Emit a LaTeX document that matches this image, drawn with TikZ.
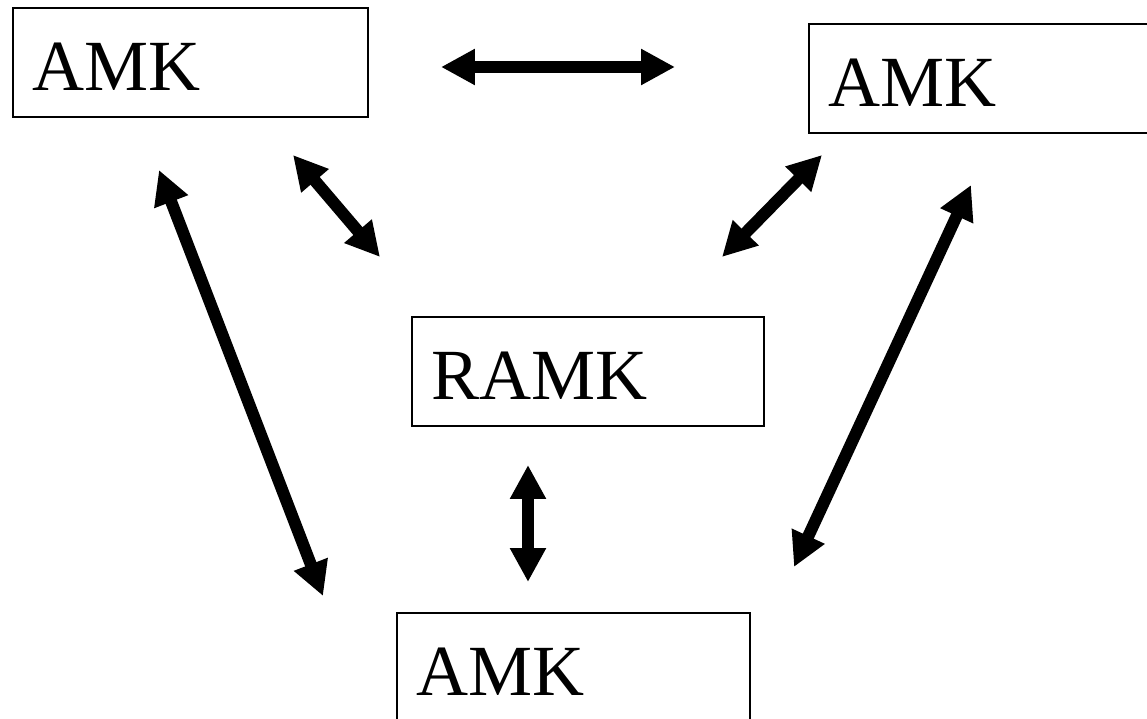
\documentclass[tikz,border=0pt]{standalone}
\usepackage{fontspec}
\setmainfont{Liberation Serif}
\usetikzlibrary{arrows.meta}
\begin{document}
\begin{tikzpicture}[x=0.02cm,y=-0.02cm,
  box/.style={draw, line width=0.035cm, anchor=north west, inner xsep=0.4cm, inner ysep=0pt,
    text width=6.3cm, align=left, minimum height=2.18cm,
    font=\fontsize{41}{49}\selectfont, text height=1.11cm, text depth=0pt},
  dbl/.style={line width=0.24cm,
    {Triangle[length=0.68cm,width=0.68cm]}-{Triangle[length=0.68cm,width=0.68cm]}}]
\useasboundingbox (0,0) rectangle (1147,719);
\clip (0,0) rectangle (1147,719);
\node[box] (tl) at (12,7) {AMK};
\node[box] (tr) at (808,23) {AMK};
\node[box, text width=6.24cm] (c) at (411,316) {RAMK};
\node[box, text width=6.26cm] (b) at (396,612) {AMK};
% free ends of connectors
\coordinate (h1) at (441,67);  \coordinate (h2) at (675,67);
\coordinate (d1a) at (293,155); \coordinate (d1b) at (380,257);
\coordinate (d2a) at (822,155); \coordinate (d2b) at (722,257);
\coordinate (l1) at (159,170); \coordinate (l2) at (323,596);
\coordinate (r1) at (971,185); \coordinate (r2) at (794,567);
\coordinate (v1) at (528,465); \coordinate (v2) at (528,582);
\draw[dbl] (h1) -- (h2);
\draw[dbl] (d1a) -- (d1b);
\draw[dbl] (d2a) -- (d2b);
\draw[dbl] (l1) -- (l2);
\draw[dbl] (r1) -- (r2);
\draw[dbl] (v1) -- (v2);
\end{tikzpicture}
\end{document}
